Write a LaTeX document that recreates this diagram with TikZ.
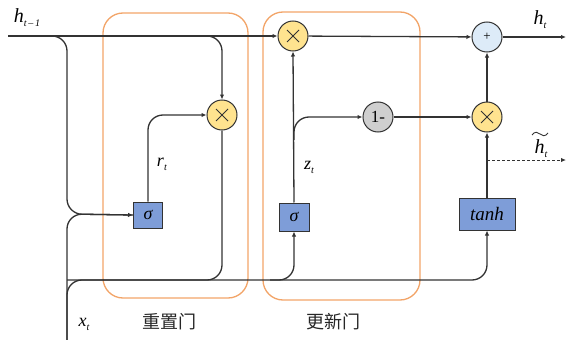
\documentclass[tikz,border=0pt]{standalone}
\usepackage{fontspec}
\setmainfont{Liberation Serif}
\newfontfamily\cjk{Noto Sans CJK SC}
\usetikzlibrary{arrows.meta}
\definecolor{lineC}{HTML}{333333}
\definecolor{yel}{HTML}{FFE38F}
\definecolor{boxC}{HTML}{7E9DD8}
\definecolor{grayC}{HTML}{CFCFCF}
\definecolor{lblue}{HTML}{DDEBF8}
\definecolor{orng}{HTML}{F2A468}
\newcommand\vlab[2]{\textit{#1}\raisebox{-4pt}{\fontsize{10}{10}\selectfont\textit{#2}}}
\begin{document}
\begin{tikzpicture}[x=1pt,y=-1pt,
  line/.style={draw=lineC, line width=1.3pt},
  arr/.style={line, -{Latex[length=5pt,width=4.5pt]}},
  opc/.style={circle, draw=lineC, line width=1pt, minimum size=30pt, inner sep=0pt},
  mul/.style={opc, fill=yel, path picture={
     \draw[line width=0.8pt,lineC] ([xshift=-6pt,yshift=-6pt]path picture bounding box.center) -- ([xshift=6pt,yshift=6pt]path picture bounding box.center);
     \draw[line width=0.8pt,lineC] ([xshift=-6pt,yshift=6pt]path picture bounding box.center) -- ([xshift=6pt,yshift=-6pt]path picture bounding box.center);}},
  sbox/.style={draw=lineC, line width=1pt, fill=boxC, inner sep=0pt},
  gate/.style={draw=orng, line width=1.3pt, rounded corners=20pt, inner sep=0pt},
  lab/.style={inner sep=0pt, font=\fontsize{20}{20}\selectfont},
  slab/.style={inner sep=0pt, font=\fontsize{18}{18}\selectfont},
  cjklab/.style={inner sep=0pt, font=\cjk\fontsize{18}{18}\selectfont\color{black!85}}
]
\useasboundingbox (0,0) rectangle (566,340);
% gates
\node[gate, minimum width=145pt, minimum height=285pt] (rg) at (175.5,155.5) {};
\node[gate, minimum width=157pt, minimum height=288pt] (ug) at (341.5,156) {};
% operators
\node[mul] (m1) at (222,115) {};
\node[mul] (m2) at (293,36) {};
\node[opc, fill=grayC, font=\fontsize{17}{17}\selectfont] (om) at (378,117) {1-};
\node[mul] (m3) at (487,117) {};
\node[opc, fill=lblue, font=\fontsize{13}{13}\selectfont] (pl) at (487,37) {+};
\node[sbox, minimum width=29pt, minimum height=26pt, font=\fontsize{18}{18}\selectfont\itshape] (s1) at (148,215) {σ};
\node[sbox, minimum width=30pt, minimum height=28pt, font=\fontsize{18}{18}\selectfont\itshape] (s2) at (294,217) {σ};
\node[sbox, minimum width=56pt, minimum height=32pt, font=\fontsize{19}{19}\selectfont\itshape] (th) at (487,214) {tanh};
% coordinates
\coordinate (hin) at (8,36);
\coordinate (hout) at (566,37);
\coordinate (jb) at (50,36);
\coordinate (jr) at (205,36);
\coordinate (xb) at (67,340);
\coordinate (xm) at (67,214);
\coordinate (bl) at (67,280);
\coordinate (br) at (487,280);
\coordinate (jz) at (270,280);
\coordinate (jo) at (294,140);
\coordinate (dj) at (487,160);
\coordinate (dout) at (566,160);
% connectors
\draw[arr] (hin) -- (m2);
\draw[arr, rounded corners=15pt] (jb) -| (xm) -- (s1.west);
\draw[line, rounded corners=15pt] (xb) -- (xm) -- (s1.west);
\draw[arr, rounded corners=15pt] (xb) -- (bl) -- (br) -- (th.south);
\draw[arr, rounded corners=15pt] (jr) -| (m1.north);
\draw[arr, rounded corners=15pt] (s1.north) |- (m1.west);
\draw[line, rounded corners=15pt] (m1.south) |- (bl);
\draw[arr, rounded corners=15pt] (jz) -| (s2.south);
\draw[arr] (s2.north) -- (m2.south);
\draw[arr, rounded corners=15pt] (jo) |- (om.west);
\draw[arr] (om) -- (m3);
\draw[arr] (m2) -- (pl);
\draw[arr] (m3) -- (pl);
\draw[arr] (th) -- (m3);
\draw[arr] (pl) -- (hout);
\draw[line, line width=1pt, dashed, dash pattern=on 3pt off 2pt, -{Latex[length=5pt,width=4.5pt]}] (dj) -- (dout);
% labels
\node[lab] (lh1) at (27,18) {\vlab{h}{t\,–\,1}};
\node[slab] (lr) at (162,164) {\vlab{r}{t}};
\node[slab] (lz) at (309,167) {\vlab{z}{t}};
\node[lab] (lht) at (540,20) {\vlab{h}{t}};
\node[lab] (lhh) at (541,149) {\vlab{h}{t}};
\draw[lineC, line width=0.9pt] (532,135) .. controls (535,131) and (538,132) .. (540,134) .. controls (542,136) and (545,137) .. (548,133);
\node[slab] (lx) at (84,324) {\vlab{x}{t}};
\node[cjklab] (lrg) at (169,322) {重置门};
\node[cjklab] (lug) at (333,322) {更新门};
\end{tikzpicture}
\end{document}
